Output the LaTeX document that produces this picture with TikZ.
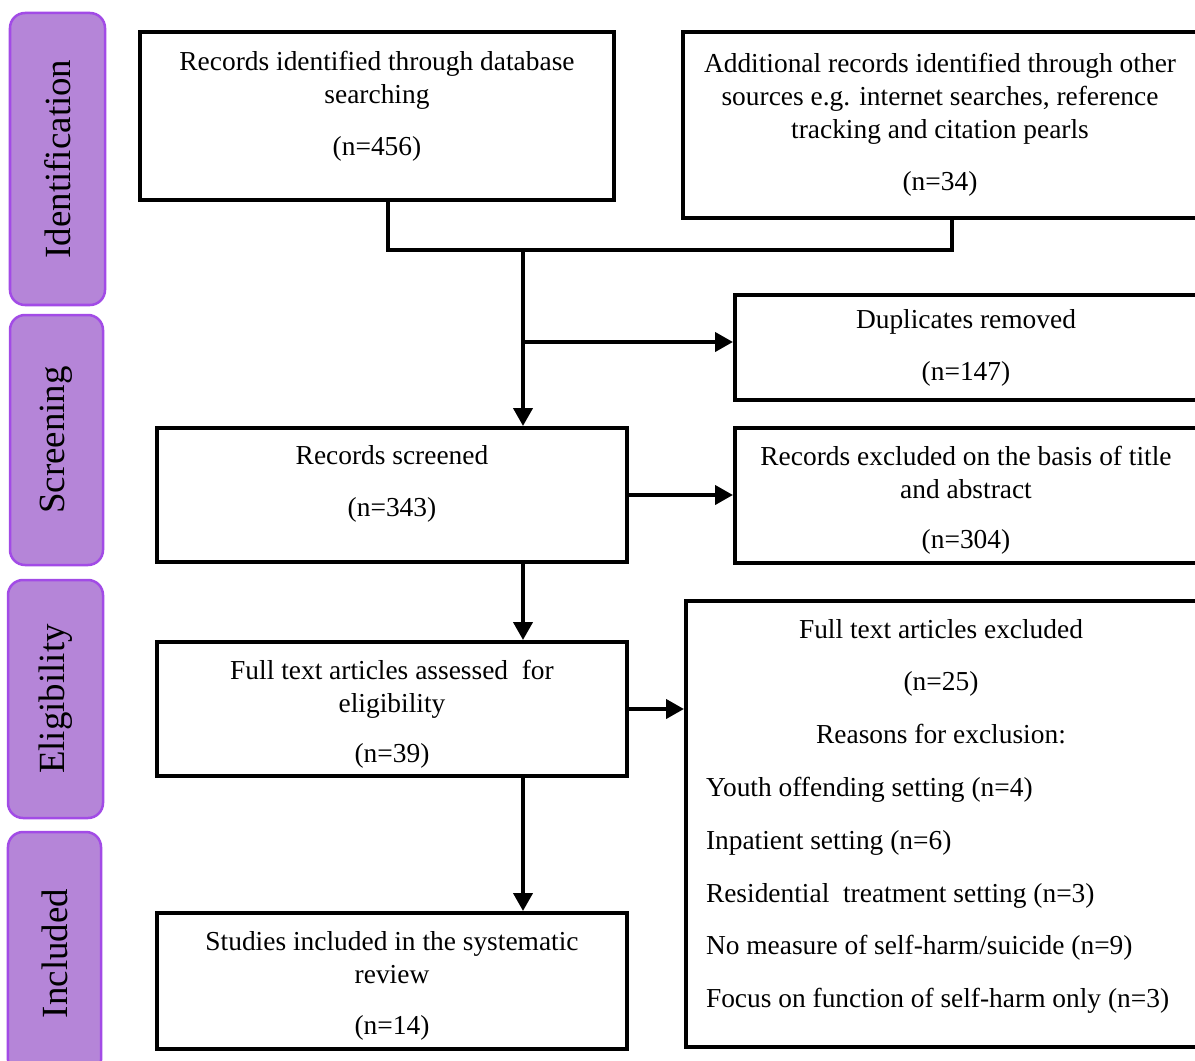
\documentclass[tikz,border=0pt]{standalone}
\usepackage{fontspec}
\setmainfont{Liberation Serif}
\usepackage{xcolor}
\usetikzlibrary{arrows.meta, positioning, calc}
\definecolor{tabfill}{HTML}{B585D8}
\definecolor{tabedge}{HTML}{A24BE6}
% invisible struts that move a box text up or down
\newcommand{\pushup}[1]{\rule[-#1]{0pt}{#1}}
\newcommand{\pushdown}[1]{\rule{0pt}{#1}}

\begin{document}
\begin{tikzpicture}[
    >={Triangle[length=0.36cm, width=0.38cm]},
    line width=0.08cm,
    record/.style={rectangle, draw, align=center, inner sep=0pt, font=\fontsize{15.6}{18.8}\selectfont},
    stage/.style={rectangle, rounded corners=0.3cm, draw=tabedge, fill=tabfill, line width=0.05cm,
        rotate=90, font=\fontsize{21}{24}\selectfont},
    reason/.style={inner sep=0pt, font=\fontsize{15.6}{30.1}\selectfont}
]
    \clip (0,0) rectangle (23.9,-21.22);
    % --- 1. Stage tabs (left column) ---
    \node (identification) [stage, minimum width=5.84cm, minimum height=1.9cm] at (1.15,-3.18) {Identification};
    \node (screening) [stage, minimum width=5.0cm, minimum height=1.86cm] at (1.13,-8.8) {Screening};
    \node (eligibility) [stage, minimum width=4.76cm, minimum height=1.9cm] at (1.11,-13.98) {Eligibility};
    \node (included) [stage, minimum width=4.86cm, minimum height=1.86cm] at (1.09,-19.07) {Included};
    % --- 2. Record boxes ---
    \node (database) [record, minimum width=9.48cm, minimum height=3.36cm] at (7.54,-2.32)
        {Records identified through database\\searching\\[0.38cm](n=456)\pushup{0.52cm}};
    \node (other) [record, minimum width=10.28cm, minimum height=3.72cm] at (18.80,-2.5)
        {Additional records identified through other\\sources e.g. internet searches, reference\\tracking and citation pearls\\[0.38cm](n=34)};
    \node (duplicates) [record, minimum width=9.24cm, minimum height=2.1cm] at (19.32,-6.95)
        {Duplicates removed\\[0.38cm](n=147)};
    \node (screened) [record, minimum width=9.4cm, minimum height=2.68cm] at (7.84,-9.9)
        {Records screened\\[0.38cm](n=343)\pushup{0.56cm}};
    \node (titleexcl) [record, minimum width=9.24cm, minimum height=2.7cm] at (19.32,-9.91)
        {\pushdown{0.58cm}Records excluded on the basis of title\\and abstract\\[0.34cm](n=304)};
    \node (assessed) [record, minimum width=9.4cm, minimum height=2.68cm] at (7.84,-14.18)
        {\pushdown{0.58cm}Full text articles assessed~ for\\eligibility\\[0.34cm](n=39)};
    \node (fullexcl) [record, minimum width=10.22cm, minimum height=8.92cm] at (18.83,-16.48) {};
    \node (studies) [record, minimum width=9.4cm, minimum height=2.72cm] at (7.84,-19.62)
        {\pushdown{0.58cm}Studies included in the systematic\\review\\[0.36cm](n=14)};
    % texts of the full text exclusion box
    \node (fullhead) [reason, align=center, anchor=north] at (18.82,-12.34)
        {Full text articles excluded\\(n=25)\\Reasons for exclusion:};
    \node (fulllist) [reason, align=left, anchor=north west] at (14.08,-15.5)
        {Youth offending setting (n=4)\\Inpatient setting (n=6)\\Residential~ treatment setting (n=3)\\No measure of self-harm/suicide (n=9)\\Focus on function of self-harm only (n=3)};
    % --- 3. Connectors ---
    \coordinate (mergeL) at (7.76,-5.0);
    \coordinate (mergeR) at (19.04,-5.0);
    \coordinate (trunk) at (10.46,-5.0);
    \coordinate (branch) at (10.46,-6.84);
    \draw (database.south -| mergeL) -- (mergeL) -- (mergeR) -- (other.south -| mergeR);
    \draw[->] (trunk) -- (screened.north -| trunk);
    \draw[->] (branch) -- (duplicates.west |- branch);
    \draw[->] (screened.east) -- (titleexcl.west |- screened.east);
    \draw[->] (screened.south -| trunk) -- (assessed.north -| trunk);
    \draw[->] (assessed.east) -- (fullexcl.west |- assessed.east);
    \draw[->] (assessed.south -| trunk) -- (studies.north -| trunk);
\end{tikzpicture}
\end{document}
